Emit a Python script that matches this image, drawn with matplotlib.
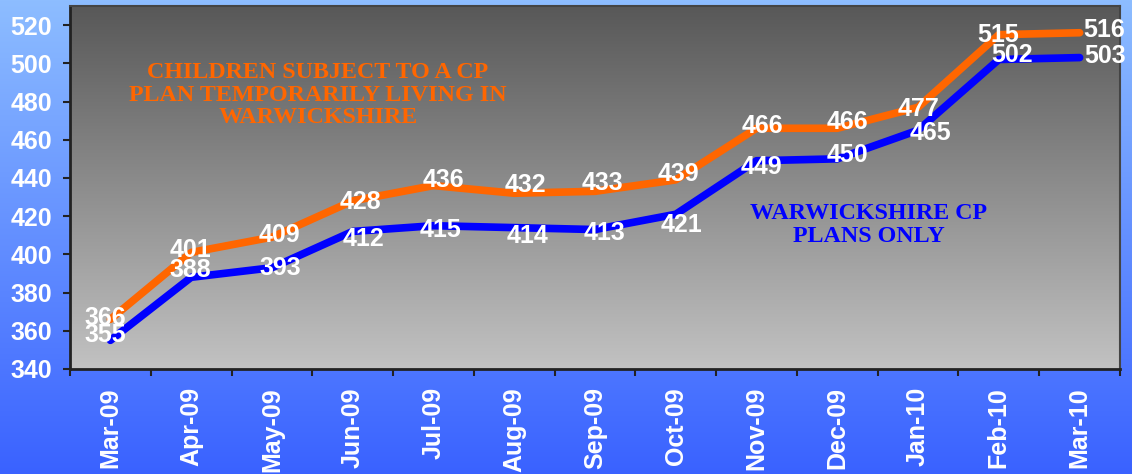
import numpy as np
import matplotlib.pyplot as plt
from matplotlib.colors import LinearSegmentedColormap

months = ['Mar-09', 'Apr-09', 'May-09', 'Jun-09', 'Jul-09', 'Aug-09', 'Sep-09',
          'Oct-09', 'Nov-09', 'Dec-09', 'Jan-10', 'Feb-10', 'Mar-10']
temp_living = [366, 401, 409, 428, 436, 432, 433, 439, 466, 466, 477, 515, 516]
warks_only = [355, 388, 393, 412, 415, 414, 413, 421, 449, 450, 465, 502, 503]

# hand-placed label nudges (dx, dy in pixels, dy down)
temp_nudge = [(-5, -1), (-1, -2), (8, -2), (8, 1), (10, -6), (11, -8), (7, -8),
              (3, -6), (6, -2), (10, -6), (0, 2), (-1, 0), (25, -3)]
warks_nudge = [(-5, -5), (-1, -7), (8, 0), (11, 8), (7, 4), (13, 8), (10, 3),
               (6, 11), (5, 6), (10, -4), (12, 3), (13, -4), (25, -2)]

ORANGE = '#FF6600'
BLUE = '#0000FF'

plt.rcParams['font.family'] = ['Liberation Sans', 'DejaVu Sans']

fig = plt.figure(figsize=(11.32, 4.74), dpi=100)

# blue gradient behind everything
bg = fig.add_axes([0, 0, 1, 1], zorder=-10)
bg_cmap = LinearSegmentedColormap.from_list('bg', ['#8dbdff', '#3a62ff'])
bg.imshow(np.linspace(0, 1, 256).reshape(-1, 1), aspect='auto', cmap=bg_cmap,
          extent=[0, 1, 0, 1], origin='upper')
bg.axis('off')

W, H = 1132, 474
left, right, top, bottom = 70, 1120, 6, 369
ax = fig.add_axes([left / W, 1 - bottom / H, (right - left) / W, (bottom - top) / H])
ax.patch.set_alpha(0)

x = np.arange(len(months))
ax.set_xlim(-0.5, len(months) - 0.5)
ax.set_ylim(340, 530)

# grey gradient inside the plot area
ax_cmap = LinearSegmentedColormap.from_list('plot', ['#585858', '#c2c2c2'])
ax.imshow(np.linspace(0, 1, 256).reshape(-1, 1), aspect='auto', cmap=ax_cmap,
          extent=[-0.5, len(months) - 0.5, 340, 530], origin='upper', zorder=0)

ax.plot(x, temp_living, color=ORANGE, lw=5.5, solid_capstyle='round',
        solid_joinstyle='round', zorder=2)
ax.plot(x, warks_only, color=BLUE, lw=5.5, solid_capstyle='round',
        solid_joinstyle='round', zorder=3)

px = 72 / 100  # pixels -> points
for xi, v, (dx, dy) in zip(x, temp_living, temp_nudge):
    ax.annotate(str(v), (xi, v), xytext=(dx * px, -dy * px), textcoords='offset points',
                ha='center', va='center', color='white', fontsize=18,
                fontweight='bold', zorder=5)
for xi, v, (dx, dy) in zip(x, warks_only, warks_nudge):
    ax.annotate(str(v), (xi, v), xytext=(dx * px, -dy * px), textcoords='offset points',
                ha='center', va='center', color='white', fontsize=18,
                fontweight='bold', zorder=5)

ax.set_yticks(np.arange(340, 521, 20))
ax.set_xticks(x)
ax.set_xticklabels(months, rotation=90)
ax.set_xticks(np.arange(-0.5, len(months)), minor=True)
ax.tick_params(axis='x', which='major', length=0, pad=13)
ax.tick_params(axis='x', which='minor', length=5, width=1.5, color='#222222')
ax.tick_params(axis='y', length=5, width=1.5, color='#222222', pad=8)
for lab in ax.get_xticklabels() + ax.get_yticklabels():
    lab.set_color('white')
    lab.set_fontweight('bold')
    lab.set_fontsize(18)

for side in ['left', 'bottom']:
    ax.spines[side].set_color('#222222')
    ax.spines[side].set_linewidth(2)
for side in ['top', 'right']:
    ax.spines[side].set_color('#444444')
    ax.spines[side].set_linewidth(1.5)

ax.text(2.57, 483.4, 'CHILDREN SUBJECT TO A CP\nPLAN TEMPORARILY LIVING IN\nWARWICKSHIRE',
        ha='center', va='center', color=ORANGE, fontsize=17.3, fontweight='bold',
        family='Liberation Serif', linespacing=1.12, zorder=4)
ax.text(9.39, 415.4, 'WARWICKSHIRE CP\nPLANS ONLY',
        ha='center', va='center', color=BLUE, fontsize=17.3, fontweight='bold',
        family='Liberation Serif', linespacing=1.12, zorder=4)

fig.savefig('out.png', dpi=100)
